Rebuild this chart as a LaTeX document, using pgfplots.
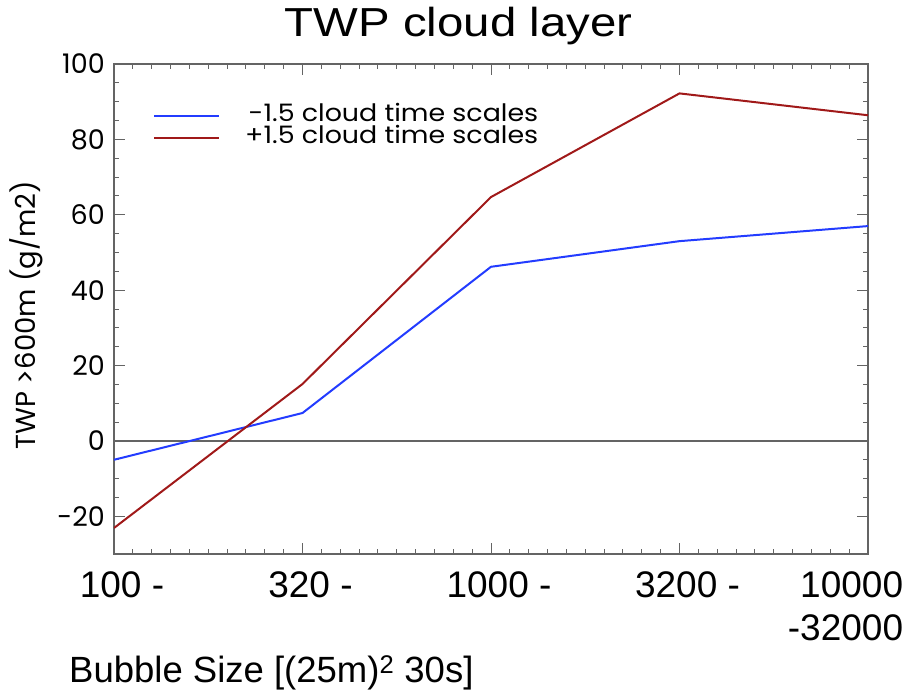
\documentclass[border=0pt]{standalone}
\usepackage{fontspec}
\setmainfont{Liberation Sans}
\newfontfamily\gothic{Poppins}
\newfontfamily\gothicw[FakeStretch=1.12]{Poppins}
\usepackage{graphicx}
\usepackage{pgfplots}
\pgfplotsset{compat=1.18}
\definecolor{lblue}{RGB}{35,60,255}
\definecolor{lred}{RGB}{160,25,25}
\definecolor{axgray}{RGB}{100,100,100}
\begin{document}
\begin{tikzpicture}
\useasboundingbox (-114pt,-140pt) rectangle (792pt,554pt);
\begin{axis}[
  scale only axis, width=754pt, height=490pt,
  xmin=0, xmax=4, ymin=-30, ymax=100,
  /pgf/number format/assume math mode=true,
  xtick={0,1,2,3,4},
  xticklabels={{\hspace*{16pt}100 -},{\hspace*{16pt}320 -},{\hspace*{16pt}1000 -},{\hspace*{16pt}3200 -},{\hspace*{-45pt}\begin{tabular}[t]{@{}r@{}}10000\\-32000\end{tabular}}},
  minor x tick num=9,
  ytick={-20,0,20,40,60,80,100},
  yticklabels={-20,0,20,40,60,80,100},
  minor y tick num=3,
  tick align=inside,
  major tick length=11pt, minor tick length=5pt,
  axis line style={axgray, line width=1.3pt},
  every tick/.style={axgray, line width=1pt},
  xticklabel style={font=\fontsize{37}{43}\selectfont, inner sep=0pt, anchor=north, yshift=-16pt, text height=27pt},
  yticklabel style={font=\gothic\fontsize{27}{30}\selectfont, inner sep=0pt, anchor=east, xshift=-9pt},
  title={\scalebox{1.17}[1]{TWP cloud layer}},
  title style={at={(0.457,1.0429)}, anchor=base, font=\fontsize{40.5}{48}\selectfont, inner sep=0pt},
  xlabel={Bubble Size [(25m)\textsuperscript{2} 30s]},
  xlabel style={at={(-0.0597,-0.263)}, anchor=base west, font=\fontsize{36.5}{42}\selectfont, inner sep=0pt},
  ylabel={TWP >600m (g/m2)},
  ylabel style={at={(-0.1167,0.488)}, anchor=center, font=\gothic\fontsize{27.5}{30}\selectfont, inner sep=0pt},
  legend style={draw=none, fill=none, at={(0.0517,0.9163)}, anchor=north west,
    font=\gothicw\fontsize{24}{24}\selectfont, inner sep=0pt, row sep=0pt, column sep=25pt,
    nodes={inner sep=0pt, text height=16pt, text depth=6pt}},
  legend cell align=right,
  legend image code/.code={\draw[#1] (0pt,0pt) -- (65pt,0pt);},
]
\addplot[axgray, line width=1.6pt, forget plot] coordinates {(0,0) (4,0)};
\addplot[lblue, line width=2pt] coordinates {(0,-5.0) (1,7.4) (2,46.2) (3,53.0) (4,57.0)};
\addplot[lred, line width=2pt] coordinates {(0,-23.1) (1,15.1) (2,64.7) (3,92.2) (4,86.4)};
\legend{-1.5 cloud time scales, +1.5 cloud time scales}
\end{axis}
\end{tikzpicture}
\end{document}
